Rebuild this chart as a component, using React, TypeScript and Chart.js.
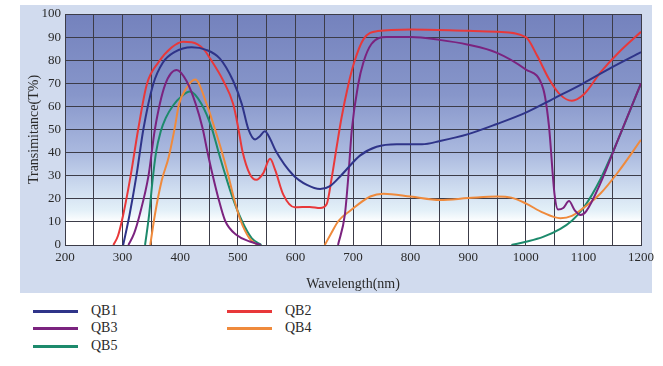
import React, { useEffect, useRef } from "react";
import { Chart, registerables } from "chart.js";

Chart.register(...registerables);

const seriesNames = ["QB1", "QB2", "QB3", "QB4", "QB5"];
const seriesColors = ["#2f3489", "#e8383a", "#7b237f", "#ef8a3c", "#1d8a6c"];

// null marks a break in the drawn curve (zero transmittance hidden on the axis)
const qb1Wl = [301, 312, 324, 336, 353, 370, 390, 420, 445, 469, 492, 507, 518, 530, 538, 547, 556, 566, 596, 620, 643, 660, 680, 712, 741, 776, 820, 851, 900, 950, 1000, 1050, 1100, 1150, 1200];
const qb1T = [0, 13, 30, 50, 69.5, 79, 83.5, 85.6, 84.5, 80.7, 71, 61, 50.4, 45.7, 47, 49.2, 46, 40.7, 30.3, 26, 24.2, 25.5, 30.3, 38.7, 42.5, 43.6, 43.6, 45, 48, 52.4, 57.3, 63.6, 70, 77, 83.5];

const qb2Wl = [284, 292, 301, 314, 327, 342, 362, 385, 405, 420, 440, 452, 475, 492, 501, 508, 521, 532, 544, 556, 565, 579, 599, 625, 643, 654, 663, 672, 680, 692, 702, 718, 743, 800, 900, 950, 1000, 1020, 1040, 1060, 1080, 1100, 1130, 1160, 1200];
const qb2T = [0, 4, 13, 30, 50, 69.5, 79, 85.5, 88, 87.8, 85, 80.7, 71, 61, 50.4, 40.7, 30.6, 28.2, 31, 37.3, 32.4, 21.8, 16.3, 16.5, 16, 17.5, 29, 43, 55, 69.5, 79, 89, 92.6, 93.3, 92.7, 92.3, 90, 81.8, 72, 65, 62.5, 65, 74.8, 83, 92.3];

const qb3Wl = [310, 320, 330, 345, 356, 374, 394, 411, 427, 439, 447, 456, 466, 478, 498, 521, 540, 600, 674, 686, 692, 698, 709, 718, 732, 758, 800, 850, 900, 950, 1000, 1030, 1040, 1050, 1056, 1065, 1075, 1085, 1095, 1105, 1130, 1160, 1200];
const qb3T = [0, 5, 13.4, 30, 50, 69.5, 75.8, 71, 61, 50.4, 40.7, 30.6, 20.5, 10.5, 4.3, 1.5, 0, null, 0, 13.4, 30, 50, 69.5, 79, 87, 90, 90, 88.8, 86.7, 83.2, 76, 67.8, 52, 21.7, 15.4, 16, 19, 15, 13, 14.7, 27, 45.5, 70];

const qb4Wl = [348, 356, 368, 380, 390, 398, 411, 426, 446, 460, 472, 483, 493, 505, 520, 534, 600, 651, 662, 675, 695, 730, 753, 800, 851, 900, 950, 975, 1000, 1030, 1060, 1080, 1100, 1130, 1160, 1200];
const qb4T = [0, 13, 28, 38, 50, 61, 68, 71.6, 61, 50.4, 40.7, 30.6, 20.5, 10.5, 3, 0, null, 0, 5, 10.5, 14.8, 21, 22.2, 21, 19.5, 20.3, 21, 20.5, 18, 14, 11.6, 12.6, 16, 22.4, 31.5, 45.5];

const qb5Wl = [339, 346, 352, 358, 366, 375, 388, 403, 417, 437, 455, 466, 478, 491, 507, 524, 541, 800, 975, 1000, 1030, 1060, 1080, 1100, 1130, 1160, 1200];
const qb5T = [0, 13, 28, 40, 49, 55, 60.5, 64.5, 66.4, 61, 50.4, 40.7, 30.6, 20.5, 10.5, 3, 0, null, 0, 1.4, 3.5, 7, 10.5, 16, 28.7, 45.5, 70];

const seriesWl = [qb1Wl, qb2Wl, qb3Wl, qb4Wl, qb5Wl];
const seriesT: (number | null)[][] = [qb1T, qb2T, qb3T, qb4T, qb5T];

const xTickLabels = ["200", "300", "400", "500", "600", "700", "800", "900", "1000", "1100", "1200"];

const FONT = "'Liberation Serif', 'DejaVu Serif', serif";

const bgPlugin = {
  id: "bgPlugin",
  beforeDraw(chart: any) {
    const { ctx, chartArea } = chart;
    ctx.save();
    ctx.fillStyle = "#ffffff";
    ctx.fillRect(0, 0, chart.width, chart.height);
    ctx.fillStyle = "#d1dbee";
    ctx.fillRect(20, 5, 632, chart.height - 5);
    const { left, top, right, bottom } = chartArea;
    const g = ctx.createLinearGradient(0, top, 0, bottom);
    g.addColorStop(0, "#7482bd");
    g.addColorStop(0.35, "#8796ca");
    g.addColorStop(0.6, "#aab9df");
    g.addColorStop(0.75, "#cddbef");
    g.addColorStop(0.85, "#e3f0f8");
    g.addColorStop(0.9, "#ffffff");
    g.addColorStop(1, "#ffffff");
    ctx.fillStyle = g;
    ctx.fillRect(left, top, right - left, bottom - top);
    ctx.restore();
  },
};

export default function App() {
  const ref = useRef<HTMLCanvasElement>(null);
  useEffect(() => {
    const datasets = seriesNames.map((name, i) => ({
      label: name,
      data: seriesWl[i].map((w, j) => ({ x: w, y: seriesT[i][j] })),
      borderColor: seriesColors[i],
      borderWidth: 2,
      pointRadius: 0,
      fill: false,
      spanGaps: false,
      cubicInterpolationMode: "monotone" as const,
    }));
    const chart = new Chart(ref.current!, {
      type: "line",
      data: { datasets: datasets as any },
      plugins: [bgPlugin],
      options: {
        animation: false,
        responsive: false,
        maintainAspectRatio: false,
        layout: { padding: { left: 20, right: 22, top: 14, bottom: 0 } },
        plugins: { legend: { display: false }, tooltip: { enabled: false } },
        scales: {
          x: {
            type: "linear",
            min: 200,
            max: 1200,
            afterFit: (s: any) => { s.height = 48; },
            ticks: {
              stepSize: 50,
              autoSkip: false,
              maxRotation: 0,
              padding: 5,
              color: "#2a2a2a",
              font: { family: FONT, size: 13 },
              callback: (v: any) => {
                const idx = xTickLabels.indexOf(String(v));
                return idx >= 0 ? xTickLabels[idx] : "";
              },
            },
            grid: { color: "#3c3c48", lineWidth: 1, drawTicks: false },
            border: { color: "#3c3c48" },
            title: { display: true, text: "Wavelength(nm)", color: "#2a2a2a", font: { family: FONT, size: 14 }, padding: { top: 12, bottom: 0 } },
          },
          y: {
            min: 0,
            max: 100,
            afterFit: (s: any) => { s.width = 45; },
            ticks: { stepSize: 10, padding: 4, color: "#2a2a2a", font: { family: FONT, size: 13 } },
            grid: { color: "#3c3c48", lineWidth: 1, drawTicks: false },
            border: { color: "#3c3c48" },
            title: { display: true, text: "Transimitance(T%)", color: "#2a2a2a", font: { family: FONT, size: 14 }, padding: { top: 6, bottom: 0 } },
          },
        },
      },
    });
    return () => chart.destroy();
  }, []);

  const legendPos = [
    { x: 33, y: 311 },
    { x: 227, y: 311 },
    { x: 33, y: 328 },
    { x: 227, y: 328 },
    { x: 33, y: 346 },
  ];

  return (
    <div style={{ position: "absolute", left: 0, top: 0, width: 663, height: 366, background: "#fff" }}>
      <canvas ref={ref} width={663} height={293} style={{ position: "absolute", left: 0, top: 0, width: 663, height: 293 }} />
      {seriesNames.map((n, i) => (
        <div key={n} style={{ position: "absolute", left: legendPos[i].x, top: legendPos[i].y - 9, height: 18, display: "flex", alignItems: "center" }}>
          <div style={{ width: 45, height: 3, background: seriesColors[i] }} />
          <span style={{ marginLeft: 13, fontFamily: FONT, fontSize: 14, color: "#2a2a2a" }}>{n}</span>
        </div>
      ))}
    </div>
  );
}
